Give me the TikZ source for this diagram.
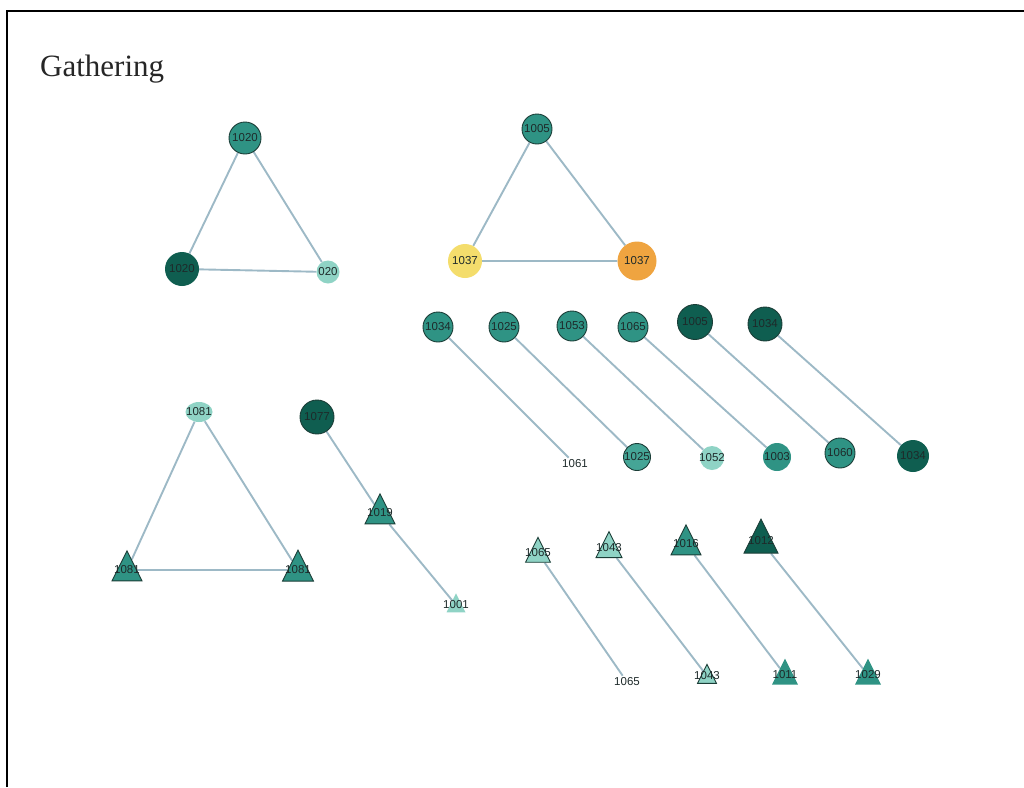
\documentclass[tikz,border=0pt]{standalone}
\usepackage{fontspec}
\setmainfont{Liberation Serif}
\newfontfamily\lblfont{Liberation Sans}
\usetikzlibrary{shapes.geometric}
\definecolor{tdark}{HTML}{0F5E50}
\definecolor{tmid}{HTML}{2F9384}
\definecolor{tmidl}{HTML}{45A596}
\definecolor{tlight}{HTML}{8FD3C5}
\definecolor{ylw}{HTML}{F4DD6C}
\definecolor{org}{HTML}{EFA440}
\definecolor{rimc}{HTML}{1B3D37}
\definecolor{edgec}{HTML}{9DB9C6}
\definecolor{labeltxt}{HTML}{1E2A2A}
\pgfdeclarelayer{background}
\pgfsetlayers{background,main}
\begin{document}
\begin{tikzpicture}[x=1pt,y=-1pt,
  lbl/.style={font=\lblfont\fontsize{11.5}{12}\selectfont, text=labeltxt},
  dot/.style={circle, inner sep=0pt, minimum size=#1, lbl},
  tri/.style={isosceles triangle, shape border rotate=90,
    isosceles triangle stretches, minimum width=#1, minimum height=#1,
    inner sep=0pt, lbl},
  txt/.style={rectangle, inner sep=2pt, lbl},
  rim/.style={draw=rimc, line width=0.9pt},
  edge/.style={draw=edgec, line width=1.9pt},
]
\useasboundingbox (0,0) rectangle (1024,787);

% frame
\draw[line width=2.6pt, black] (7,787) -- (7,11) -- (1024,11);

% title
\node[anchor=base west, inner sep=0pt, font=\fontsize{31}{31}\selectfont, text=black!85] (title) at (40,76) {Gathering};

% circle triangle, top left
\node[dot=32, fill=tmid, rim] (a1) at (245,138) {\makebox[0pt]{1020}};
\node[dot=34, fill=tdark] (a2) at (182,269) {\makebox[0pt]{1020}};
\node[dot=23, fill=tlight] (a3) at (328,272) {\makebox[0pt]{020}};

% circle triangle, top right
\node[dot=30, fill=tmid, rim] (b1) at (537,129) {\makebox[0pt]{1005}};
\node[dot=34, fill=ylw] (b2) at (465,261) {\makebox[0pt]{1037}};
\node[dot=39, fill=org] (b3) at (637,261) {\makebox[0pt]{1037}};

% circle pairs, upper row
\node[dot=30, fill=tmid, rim] (p1) at (438,327) {\makebox[0pt]{1034}};
\node[dot=30, fill=tmid, rim] (p2) at (504,327) {\makebox[0pt]{1025}};
\node[dot=30, fill=tmid, rim] (p3) at (572,326) {\makebox[0pt]{1053}};
\node[dot=30, fill=tmid, rim] (p4) at (633,327) {\makebox[0pt]{1065}};
\node[dot=35, fill=tdark, rim] (p5) at (695,322) {\makebox[0pt]{1005}};
\node[dot=34, fill=tdark, rim] (p6) at (765,324) {\makebox[0pt]{1034}};

% circle pairs, lower row
\node[txt] (q1) at (575,464) {1061};
\node[dot=27, fill=tmidl, rim] (q2) at (637,457) {\makebox[0pt]{1025}};
\node[dot=24, fill=tlight] (q3) at (712,458) {\makebox[0pt]{1052}};
\node[dot=28, fill=tmid] (q4) at (777,457) {\makebox[0pt]{1003}};
\node[dot=30, fill=tmid, rim] (q5) at (840,453) {\makebox[0pt]{1060}};
\node[dot=32, fill=tdark] (q6) at (913,456) {\makebox[0pt]{1034}};

% mixed triangle, bottom left
\node[ellipse, inner sep=0pt, minimum width=27, minimum height=20, fill=tlight, lbl] (c1) at (199,412) {\makebox[0pt]{1081}};
\node[tri=30, fill=tmid, rim] (c2) at (127,570) {\makebox[0pt]{1081}};
\node[tri=31, fill=tmid, rim] (c3) at (298,570) {\makebox[0pt]{1081}};

% chain
\node[dot=34, fill=tdark, rim] (d1) at (317,417) {\makebox[0pt]{1077}};
\node[tri=30, fill=tmid, rim] (d2) at (380,513) {\makebox[0pt]{1019}};
\node[tri=19, fill=tlight] (d3) at (456,605) {\makebox[0pt]{1001}};

% triangle pairs
\node[tri=25, fill=tlight, rim] (u1) at (538,553) {\makebox[0pt]{1065}};
\node[tri=26, fill=tlight, rim] (u2) at (609,548) {\makebox[0pt]{1043}};
\node[tri=30, fill=tmid, rim] (u3) at (686,544) {\makebox[0pt]{1016}};
\node[tri=34, fill=tdark, rim] (u4) at (761,541) {\makebox[0pt]{1012}};
\node[txt] (v1) at (627,682) {1065};
\node[tri=19, fill=tlight, rim] (v2) at (707,676) {\makebox[0pt]{1043}};
\node[tri=26, fill=tmid] (v3) at (785,675) {\makebox[0pt]{1011}};
\node[tri=26, fill=tmid] (v4) at (868,675) {\makebox[0pt]{1029}};

\begin{pgfonlayer}{background}
  \draw[edge] (a1) -- (a2) -- (a3) -- (a1);
  \draw[edge] (b1) -- (b2) -- (b3) -- (b1);
  \foreach \i in {1,...,6} \draw[edge] (p\i) -- (q\i);
  \draw[edge] (c1) -- (c2) -- (c3) -- (c1);
  \draw[edge] (d1) -- (d2) -- (d3);
  \foreach \i in {1,...,4} \draw[edge] (u\i) -- (v\i);
\end{pgfonlayer}
\end{tikzpicture}
\end{document}
